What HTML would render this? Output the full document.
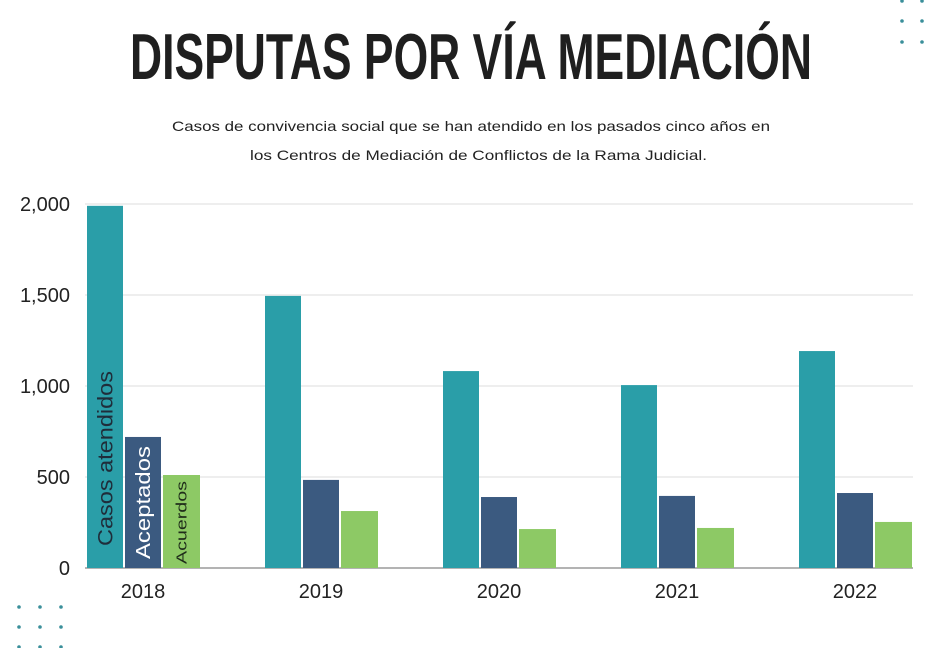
<!DOCTYPE html>
<html><head><meta charset="utf-8"><style>
body{margin:0;background:#fff;width:925px;height:648px;overflow:hidden;font-family:"Liberation Sans",sans-serif}
</style></head><body>
<svg width="925" height="648" id="svg">
<text x="471" y="79" text-anchor="middle" font-family="Liberation Sans Narrow, Liberation Sans, sans-serif" font-weight="bold" font-size="65" fill="#1f1f1f" textLength="682" lengthAdjust="spacingAndGlyphs">DISPUTAS POR VÍA MEDIACIÓN</text>
<text x="172" y="131" font-size="14" fill="#222" textLength="598" lengthAdjust="spacingAndGlyphs">Casos de convivencia social que se han atendido en los pasados cinco años en</text>
<text x="250" y="160" font-size="14" fill="#222" textLength="457" lengthAdjust="spacingAndGlyphs">los Centros de Mediación de Conflictos de la Rama Judicial.</text>
<g id="dots"></g>
<g id="grid"></g>
<g id="bars"></g>
<g id="labels"></g>
</svg>
<script>
const years=["2018","2019","2020","2021","2022"];
const atendidos=[1990,1495,1082,1005,1192];
const aceptados=[720,484,390,396,412];
const acuerdos=[511,313,214,220,253];
const ticks=[0,500,1000,1500,2000];
const seriesNames=["Casos atendidos","Aceptados","Acuerdos"];
const colors=["#2a9ea8","#3b5a80","#8dc965"];
const NS="http://www.w3.org/2000/svg";
const y0=568,yTop=204,yMax=2000;
function y(v){return y0-(v/yMax)*(y0-yTop);}
function gx(i){return 87+i*178;}
function mk(tag,attrs,parent,txt){const e=document.createElementNS(NS,tag);for(const k in attrs)e.setAttribute(k,attrs[k]);if(txt!=null)e.textContent=txt;parent.appendChild(e);return e;}
const grid=document.getElementById('grid');
ticks.forEach(t=>{
 const l=mk('line',{x1:85,x2:913,y1:y(t),y2:y(t),stroke:t===0?'#9a9a9a':'#dcdcdc','stroke-width':t===0?1.5:1},grid);
 
 
 const tx=mk('text',{x:70,y:y(t)+7,'text-anchor':'end','font-size':20,fill:'#222'},grid,t.toLocaleString('en-US'));
 
 
});
const bars=document.getElementById('bars');
const series=[atendidos,aceptados,acuerdos];
years.forEach((yr,i)=>{
 series.forEach((s,j)=>{
  const x=gx(i)+j*38, w=j===2?37:36;
  const r=mk('rect',{x:x,y:y(s[i]),width:w,height:y0-y(s[i]),fill:colors[j]},bars);
  
  
 });
 const t=mk('text',{x:gx(i)+56,y:598,'text-anchor':'middle','font-size':20,fill:'#222'},bars,yr);
 
 
});
const lab=document.getElementById('labels');
const lsz=[21,20,15],lcol=['#1f2d3a','#ffffff','#1f2d1a'],llen=[175,113,83],lbot=[546,559,564];
seriesNames.forEach((n,j)=>{
 const cx=gx(0)+j*38+18+lsz[j]*0.36, by=lbot[j];
 const t=mk('text',{x:cx,y:by,transform:`rotate(-90 ${cx} ${by})`,'font-size':lsz[j],fill:lcol[j],textLength:llen[j],lengthAdjust:'spacingAndGlyphs'},lab,n);
 
 
});
const dots=document.getElementById('dots');
[[902,1],[922,1],[902,21],[922,21],[902,42],[922,42]].concat([19,40,61].flatMap(x=>[607,627,647].map(yy=>[x,yy]))).forEach(p=>{
 const c=mk('circle',{cx:p[0],cy:p[1],r:1.8,fill:'#3a8f9a'},dots);
 
 
});
</script>
</body></html>
